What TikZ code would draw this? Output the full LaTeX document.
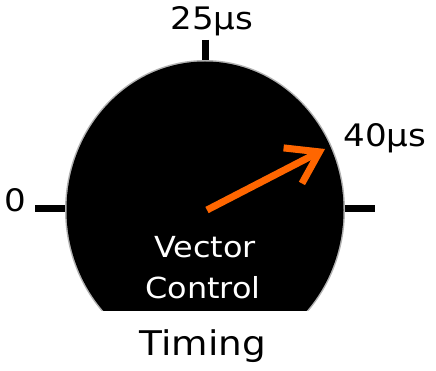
\documentclass[tikz,border=0pt]{standalone}
\usepackage{fontspec}
\setmainfont{DejaVu Sans}[FakeStretch=1.1]
\usetikzlibrary{arrows.meta}
\definecolor{needle}{RGB}{255,102,0}
\begin{document}
\begin{tikzpicture}[x=1pt,y=-1pt,
  tick/.style={line width=7pt,black},
  lbl/.style={inner sep=0pt,anchor=base,font=\fontsize{31}{37}\selectfont},
  inlbl/.style={inner sep=0pt,anchor=base,text=white,font=\fontsize{29}{35}\selectfont},
  arr/.style={line width=7pt,needle,-{Straight Barb[length=30pt,width=40pt]}}]
\useasboundingbox (0,0) rectangle (436,371);
% ticks
\coordinate (lt1) at (35,209); \coordinate (lt2) at (72,209);
\coordinate (rt1) at (338,209); \coordinate (rt2) at (375,209);
\coordinate (tt1) at (205,40); \coordinate (tt2) at (205,80);
\draw[tick] (lt1) -- (lt2);
\draw[tick] (rt1) -- (rt2);
\draw[tick] (tt1) -- (tt2);
% dome
\begin{scope}
  \clip (0,0) rectangle (436,310);
  \fill[black!30] (205,210) ellipse [x radius=140, y radius=150];
  \fill[black] (205,210) ellipse [x radius=138.5, y radius=148.5];
\end{scope}
% needle
\coordinate (c) at (207,210);
\coordinate (t) at (325,149);
\draw[arr] (c) -- (t);
% labels
\node[lbl] (l0) at (15,212) {0};
\node[lbl] (l25) at (212,30) {25µs};
\node[lbl] (l40) at (385,147) {40µs};
\node[inlbl] (vec) at (205,258) {Vector};
\node[inlbl] (ctrl) at (203,298) {Control};
\node[lbl,font=\fontsize{34}{40}\selectfont] (tim) at (203,355) {Timing};
\end{tikzpicture}
\end{document}
